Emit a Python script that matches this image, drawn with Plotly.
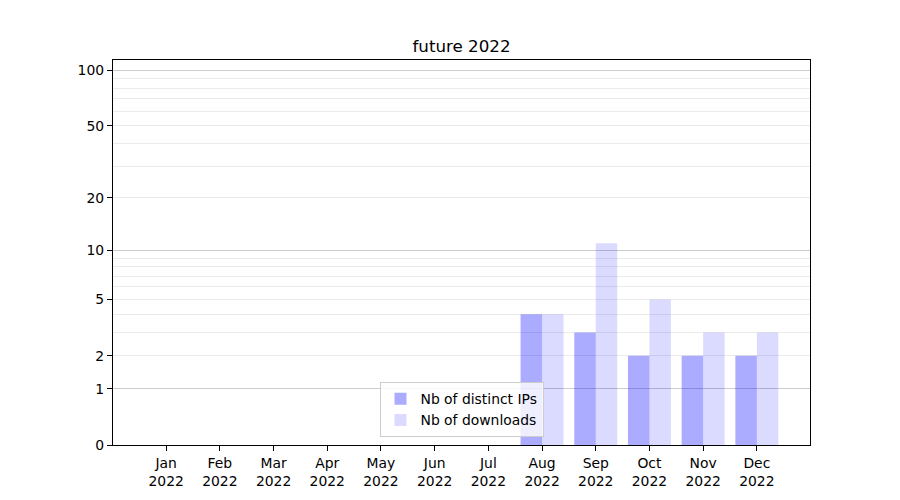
import plotly.graph_objects as go

months = ["Jan", "Feb", "Mar", "Apr", "May", "Jun", "Jul", "Aug", "Sep", "Oct", "Nov", "Dec"]
year = "2022"
distinct_ips = [0, 0, 0, 0, 0, 0, 0, 4, 3, 2, 2, 2]
downloads = [0, 0, 0, 0, 0, 0, 0, 4, 11, 5, 3, 3]
y_tick_labels = [0, 1, 2, 5, 10, 20, 50, 100]
major_grid = [1, 10, 100]
minor_grid = [2, 3, 4, 5, 6, 7, 8, 9, 20, 30, 40, 50, 60, 70, 80, 90]

x = list(range(len(months)))
# axis shows log(1 + value): bars start at 1 on a log axis
OFFSET = 1

fig = go.Figure()
fig.add_trace(go.Bar(x=x, y=distinct_ips, base=OFFSET, name="Nb of distinct IPs",
                     marker=dict(color="rgba(0,0,255,0.33)", line=dict(width=0))))
fig.add_trace(go.Bar(x=x, y=downloads, base=OFFSET, name="Nb of downloads",
                     marker=dict(color="rgba(0,0,255,0.14)", line=dict(width=0))))
# invisible trace to anchor the overlay axis carrying the darker grid lines
fig.add_trace(go.Scatter(x=[0], y=[OFFSET], yaxis="y2", mode="markers",
                         marker=dict(opacity=0), showlegend=False, hoverinfo="skip"))

yrange = [0, 2.059]
font = dict(family="DejaVu Sans", size=13.9, color="black")

fig.update_layout(
    width=900, height=500,
    margin=dict(l=113, r=90, t=60, b=55),
    paper_bgcolor="white", plot_bgcolor="white",
    font=font,
    title=dict(text="future 2022", x=(113 + 810) / 2 / 900, xanchor="center",
               y=1 - 46 / 500, yanchor="middle", font=dict(family="DejaVu Sans", size=16.7)),
    barmode="group", bargap=0.2, bargroupgap=0,
    showlegend=True,
    legend=dict(x=0.5, xanchor="center", y=0.02, yanchor="bottom",
                bgcolor="rgba(255,255,255,0.8)", bordercolor="#cccccc", borderwidth=1,
                font=dict(family="DejaVu Sans", size=13.9), tracegroupgap=0, itemwidth=30),
    xaxis=dict(range=[-0.99, 11.99], tickmode="array", tickvals=x,
               ticktext=[f"{m}<br>{year}" for m in months],
               showgrid=False, zeroline=False, showline=True, linecolor="black",
               linewidth=1.2, mirror=True, ticks="outside", ticklen=5, tickcolor="black",
               tickfont=font),
    yaxis=dict(type="log", range=yrange, tickmode="array",
               tickvals=[v + OFFSET for v in y_tick_labels],
               ticktext=[str(v) for v in y_tick_labels],
               showgrid=False, zeroline=False, showline=True, linecolor="black",
               linewidth=1.2, mirror=True, ticks="outside", ticklen=5, tickcolor="black",
               tickfont=font,
               minor=dict(tickmode="array", tickvals=[v + OFFSET for v in minor_grid],
                          showgrid=True, gridcolor="#ebebeb", gridwidth=1, ticks="")),
    yaxis2=dict(type="log", range=yrange, overlaying="y", tickmode="array",
                tickvals=[v + OFFSET for v in major_grid], showticklabels=False,
                showgrid=True, gridcolor="#cccccc", gridwidth=1, zeroline=False,
                showline=False, ticks=""),
)

fig.write_html("out.html", config={"displayModeBar": False},
               post_script="document.body.style.margin='0';document.body.style.overflow='hidden';")
